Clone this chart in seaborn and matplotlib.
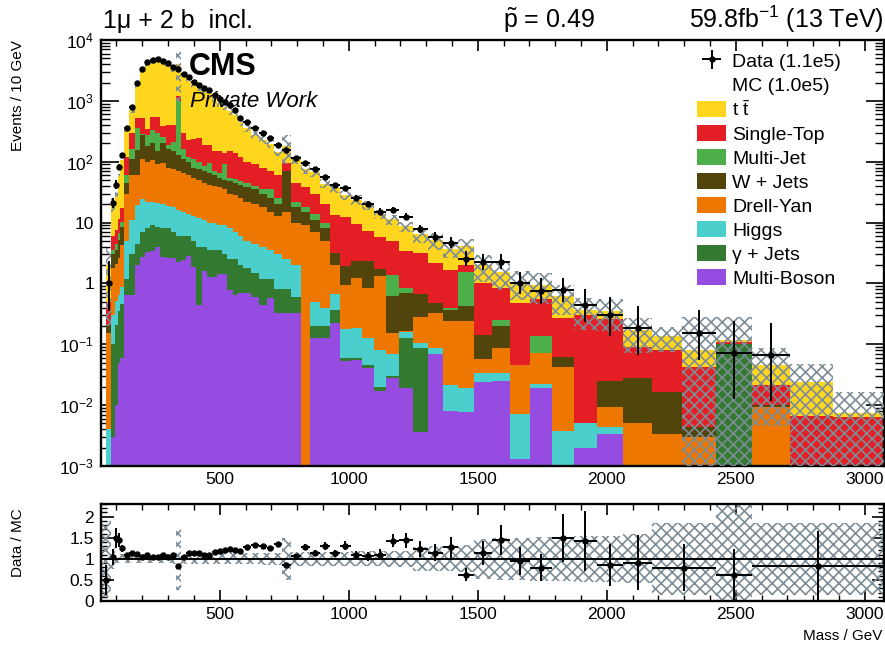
import math
import numpy as np
import pandas as pd
import matplotlib
matplotlib.use("Agg")
import matplotlib.pyplot as plt
from matplotlib.patches import Patch
from matplotlib.ticker import FixedLocator, MultipleLocator, LogLocator, NullFormatter
import seaborn as sns

# ---------------- binning (GeV) ----------------
edges = [40, 60, 80, 95, 105, 115, 130, 150, 170, 190, 210, 230, 250, 270, 290, 310,
         330, 350, 370, 390, 410, 430, 450, 470, 490, 510, 530, 550, 570, 590,
         620, 652, 682, 710, 740, 776, 814, 848, 888, 926, 966, 1008, 1050, 1096,
         1146, 1196, 1248, 1306, 1366, 1424, 1486, 1554, 1626, 1704, 1786, 1872,
         1962, 2064, 2174, 2290, 2423, 2562, 2709, 2876, 3074]

# ---------------- simulated processes (events / 10 GeV) ----------------
ttbar = [0, 1.5, 14, 21, 46, 88,
         217, 412, 1261, 2745, 3687, 4012, 4229, 3802, 3657, 2927, 2858, 2376, 1873,
         1569, 1391, 1323, 1179, 935, 766, 662, 535, 455, 325,
         257, 186, 150, 129, 83, 88, 64, 38, 37.5, 23.8,
         23.5, 16.3, 14.3, 12.1, 7.8, 6.5, 5.35, 3.22, 2.9, 1.99,
         2.07, 0.99, 0.72, 0.60, 0.41, 0.35, 0.07, 0.102, 0.082, 0.0555,
         0.0376, 0.011, 0.0244, 0.017, 0.0011]
single_top = [0, 0.3, 2.5, 3, 4.7, 7,
              60, 140, 161, 235, 70, 210, 240, 130, 210, 190, 204, 140, 111,
              130, 146, 106, 96, 80, 85, 50, 93, 88, 72,
              55, 50, 45, 35, 35, 26, 23, 20, 16, 10,
              10.3, 10.4, 7.0, 4.9, 4.2, 3.52, 2.5, 2.52, 1.73, 1.29,
              0.46, 0.867, 0.60, 0.424, 0.415, 0.207, 0.295, 0.2315, 0.063, 0.063,
              0.0375, 0.0084, 0.0115, 0.0066, 0.0063]
multi_jet = [0, 0, 0.5, 0.8, 1.5, 2,
             15, 50, 206, 20, 90, 130, 150, 50, 30, 60, 856, 50, 20,
             30, 25, 15, 30, 10, 10, 40, 7, 7, 6,
             7, 5, 5, 10, 5, 0.5, 4, 3, 3, 2,
             0, 0, 0, 0, 0, 0.76, 0.15, 0, 0, 0.04,
             1.15, 0, 0.053, 0, 0.062, 0, 0, 0, 0, 0,
             0, 0, 0, 0, 0]
w_jets = [0, 0.05, 1.2, 1.5, 2.5, 4,
          15, 50, 92, 160, 80, 95, 60, 105, 80, 75, 60, 45, 40,
          25, 25, 25, 23, 20, 17, 15, 18, 17, 17,
          16, 15, 12, 10, 7, 54.5, 8, 6, 4, 3,
          1.15, 0.97, 1.09, 1.47, 0.39, 0.464, 0.538, 0.375, 0.14, 0.12,
          0.18, 0.086, 0.11, 0, 0, 0.021, 0, 0.0152, 0.0227, 0.0132,
          0.0014, 0, 0.0008, 0, 0]
drell_yan = [0, 0.15, 1.5, 1.6, 2, 3.5,
             25, 49, 42, 86, 78, 83, 69, 75, 61, 57, 54, 50, 46,
             42, 38, 34, 32, 30, 29, 26, 22, 21, 19,
             17, 15.5, 14, 11.5, 10, 12.5, 8, 9, 6.5, 4.6,
             1.35, 0.78, 1.05, 0.72, 1.23, 0.087, 0.006, 0.18, 0.243, 0.218,
             0.22, 0.023, 0.053, 0.039, 0.051, 0.038, 0, 0.0049, 0.0051, 0.0034,
             0.0030, 0, 0.0093, 0, 0]
higgs = [0, 0.004, 0.2, 0.3, 0.3, 0.4,
         3.8, 8, 15, 17, 14, 13, 12.5, 12, 11, 11, 10, 9, 8,
         8, 8, 7, 6.5, 6.5, 5.5, 6, 5.5, 4.5, 4,
         3.2, 3, 2.8, 2.3, 2.2, 1.7, 1.4, 0, 0.3, 0.2,
         0.32, 0.118, 0.125, 0.083, 0.061, 0.039, 0.028, 0.018, 0.018, 0.0135,
         0.0115, 0.0098, 0.0084, 0.0058, 0.0028, 0.0037, 0.0031, 0.001, 0, 0,
         0, 0, 0, 0, 0]
gamma_jets = [0, 0, 0.1, 0.2, 0.3, 0.4,
              0.55, 2.35, 2.4, 4.25, 4.7, 5.55, 4.6, 5.25, 5.35, 4.35, 3.7, 3.55, 3.1,
              3.1, 3.55, 2.4, 2.2, 2.2, 2.06, 1.56, 1.71, 1.85, 1.3,
              1.1, 0.9, 0.75, 0.62, 0.47, 0.47, 0.27, 0, 0.07, 0.07,
              0.134, 0.006, 0.004, 0.0035, 0.0028, 0.0019, 0.109, 0.083, 0, 0,
              0, 0, 0, 0, 0, 0, 0, 0, 0, 0,
              0, 0.0996, 0, 0, 0]
multi_boson = [0, 0, 0.003, 0.01, 0.05, 0.06,
               0.65, 0.65, 2.0, 2.75, 3.3, 3.45, 3.9, 2.75, 2.65, 2.65, 2.27, 2.45, 2.86,
               1.88, 0.45, 1.62, 1.29, 1.29, 1.44, 1.44, 0.79, 0.65, 0.70,
               0.70, 0.60, 0.45, 0.58, 0.33, 0.33, 0.33, 0, 0.128, 0.128,
               0.226, 0.054, 0.056, 0.0415, 0.0172, 0.0281, 0.0193, 0.0036, 0.069, 0.0081,
               0.0078, 0.0236, 0.025, 0.0013, 0.0193, 0, 0.002, 0.0034, 0, 0,
               0, 0, 0, 0, 0]

# relative uncertainty of the simulation per bin
mc_rel_err = [0.90, 0.90, 0.25, 0.11, 0.11, 0.11, 0.10, 0.10, 0.10, 0.11, 0.10, 0.10, 0.10,
              0.11, 0.11, 0.12, 0.75, 0.12, 0.12, 0.12, 0.12, 0.12, 0.12, 0.12, 0.13,
              0.13, 0.13, 0.13, 0.13, 0.13, 0.13, 0.14, 0.14, 0.14, 0.50, 0.16, 0.17,
              0.17, 0.17, 0.17, 0.17, 0.18, 0.18, 0.18, 0.19, 0.19, 0.28, 0.30, 0.30,
              0.32, 0.48, 0.50, 0.50, 0.52, 0.52, 0.54, 0.54, 0.58, 0.45, 2.5, 1.4,
              0.9, 1.0, 1.2]

# ---------------- observed data (events / 10 GeV) ----------------
nan = float("nan")
data = [nan, 1.0, 21, 42, 83, 131,
        364, 805, 2000, 3400, 4430, 4780, 4960, 4600, 4260, 3660, 3400, 2810, 2420,
        2080, 1850, 1650, 1480, 1270, 1090, 970, 840, 720, 530,
        457, 364, 301, 249, 191, 158, 117, 96.6, 77, 56.9,
        42, 37.5, 25.7, 20.5, 15.1, 16.3, 12.5, 7.9, 5.86, 4.67,
        2.55, 2.27, 2.27, 1.02, 0.76, 0.79, 0.45, 0.305, 0.187, nan,
        0.155, 0.072, 0.067, nan, nan]

# ---------------- ratio panel ----------------
ratio_tail_edges = [2174, 2423, 2562, 3074]
ratio_vals = [0.50, 1.05, 1.49, 1.45, 1.25,
              1.08, 1.13, 1.12, 1.04, 1.10, 1.05, 1.04, 1.10, 1.05, 1.10, 0.84, 1.05,
              1.15, 1.15, 1.13, 1.09, 1.08, 1.17, 1.19, 1.21, 1.23, 1.21, 1.19,
              1.28, 1.32, 1.31, 1.25, 1.34, 0.86, 1.07, 1.27, 1.14, 1.30,
              1.13, 1.31, 1.09, 1.06, 1.10, 1.43, 1.44, 1.23, 1.15, 1.27,
              0.62, 1.14, 1.45, 0.95, 0.79, 1.49, 1.43, 0.86, 0.91,
              0.79, 0.62, 0.83]
ratio_tail_counts = [2, 1, 1]
ratio_tail_band = [0.86, 1.35, 0.86]

labels = [r"t $\bar{\mathrm{t}}$", "Single-Top", "Multi-Jet", "W + Jets",
          "Drell-Yan", "Higgs", "γ + Jets", "Multi-Boson"]
colors = ["#FFD61E", "#E31E24", "#4DAF4A", "#52450C",
          "#EE7700", "#4ACFCC", "#33792F", "#964CE0"]
series = [ttbar, single_top, multi_jet, w_jets, drell_yan, higgs, gamma_jets, multi_boson]

# ---------------- style ----------------
sns.set_theme(style="ticks")
plt.rcParams["font.family"] = ["Liberation Sans", "DejaVu Sans"]
plt.rcParams.update({
    "mathtext.fontset": "custom",
    "mathtext.rm": "Liberation Sans",
    "mathtext.it": "Liberation Sans:italic",
    "mathtext.bf": "Liberation Sans:bold",
    "hatch.linewidth": 1.2,
    "axes.edgecolor": "black",
    "text.color": "black",
    "xtick.color": "black",
    "ytick.color": "black",
    "axes.linewidth": 1.5,
})
HATCH_COLOR = "#7D8D98"


def poisson_interval(n):
    """Garwood 68% interval for n observed events."""
    q = 0.5 * (1 - 0.682689)
    if n > 150:
        s = math.sqrt(n)
        return n - s, n + s

    def cdf(k, mu):
        if k < 0:
            return 0.0
        if mu <= 0:
            return 1.0
        return sum(math.exp(-mu + i * math.log(mu) - math.lgamma(i + 1)) for i in range(k + 1))

    def solve(f, target, lo, hi):
        for _ in range(80):
            mid = 0.5 * (lo + hi)
            if f(mid) > target:
                lo = mid
            else:
                hi = mid
        return 0.5 * (lo + hi)

    upper = solve(lambda m: cdf(n, m), q, 0.0, n + 10 * math.sqrt(n) + 10)
    lower = 0.0 if n == 0 else solve(lambda m: cdf(n - 1, m), 1 - q, 0.0, n + 1.0)
    return lower, upper


W, H = 885, 646
fig = plt.figure(figsize=(W / 100, H / 100), dpi=100)
ax = fig.add_axes([101 / W, 1 - 466 / H, 783 / W, 426 / H])
rax = fig.add_axes([101 / W, 1 - 601 / H, 783 / W, 97 / H])

e = np.array(edges, float)
centers = 0.5 * (e[:-1] + e[1:])
widths = np.diff(e)

# ---------------- stacked simulation ----------------
frames = [pd.DataFrame({"mass": centers, "events": vals, "process": lab})
          for lab, vals in zip(labels, series)]
df = pd.concat(frames, ignore_index=True)
sns.histplot(data=df, x="mass", weights="events", hue="process", hue_order=labels,
             palette=dict(zip(labels, colors)), bins=edges, multiple="stack",
             element="step", fill=True, alpha=1.0, linewidth=0, legend=False, ax=ax)
ax.set_yscale("log")

total = np.sum(np.array(series, float), axis=0)
rel = np.array(mc_rel_err, float)
band_lo = np.clip(total * (1 - rel), 1e-6, None)
band_hi = total * (1 + rel)
band_lo[total <= 0] = np.nan
band_hi[total <= 0] = np.nan
ax.fill_between(e, np.append(band_lo, band_lo[-1]), np.append(band_hi, band_hi[-1]),
                step="post", facecolor="none", edgecolor=HATCH_COLOR, hatch="xxx",
                linewidth=0, zorder=3)

# ---------------- data ----------------
d = np.array(data, float)
has = ~np.isnan(d)
counts = np.rint(np.nan_to_num(d) * widths / 10.0)
ylo, yhi = [], []
for v, n in zip(d[has], counts[has]):
    lo, up = poisson_interval(int(n))
    ylo.append(v - v * lo / n)
    yhi.append(v * up / n - v)
eb = ax.errorbar(centers[has], d[has], xerr=widths[has] / 2, yerr=[ylo, yhi],
                 fmt="o", ms=3.6, color="black", elinewidth=1.4, capsize=0, zorder=5)

ax.set_xlim(40, 3074)
ax.set_ylim(1e-3, 1e4)
ax.set_xlabel("")
ax.set_ylabel("")

# ---------------- ratio ----------------
r_edges = np.array([edges[0]] + edges[2:59] + ratio_tail_edges[1:], float)
r_centers = 0.5 * (r_edges[:-1] + r_edges[1:])
r_widths = np.diff(r_edges)
r_vals = np.array(ratio_vals, float)
r_counts = np.concatenate([[counts[0] + counts[1]], counts[2:58], ratio_tail_counts])
r_err = r_vals / np.sqrt(r_counts)
r_band = np.array(mc_rel_err[1:58] + ratio_tail_band, float)
rb_lo = np.clip(1 - r_band, 0, None)
rb_hi = 1 + r_band
rax.fill_between(r_edges, np.append(rb_lo, rb_lo[-1]), np.append(rb_hi, rb_hi[-1]),
                 step="post", facecolor="none", edgecolor=HATCH_COLOR, hatch="xxx",
                 linewidth=0, zorder=1)
rax.axhline(1.0, color="black", lw=1.4, zorder=2)
rax.errorbar(r_centers, r_vals, xerr=r_widths / 2, yerr=r_err, fmt="o", ms=3.6,
             color="black", elinewidth=1.4, capsize=0, zorder=4)
rax.set_xlim(40, 3074)
rax.set_ylim(0, 2.3)

# ---------------- axes cosmetics ----------------
xmaj = [500, 1000, 1500, 2000, 2500, 3000]
for a in (ax, rax):
    a.xaxis.set_major_locator(FixedLocator(xmaj))
    a.xaxis.set_minor_locator(MultipleLocator(100))
    a.set_xticklabels([str(v) for v in xmaj])
    a.tick_params(axis="x", which="major", direction="in", length=8, width=1.2,
                  top=True, bottom=True, labelsize=12.5, pad=4)
    a.tick_params(axis="x", which="minor", direction="in", length=4, width=1.0,
                  top=True, bottom=True)
    for s in a.spines.values():
        s.set_linewidth(1.7)
        s.set_visible(True)

decades = [1e-3, 1e-2, 1e-1, 1, 10, 1e2, 1e3, 1e4]
ax.yaxis.set_major_locator(FixedLocator(decades))
ax.set_yticklabels([r"$10^{-3}$", r"$10^{-2}$", r"$10^{-1}$", "1", "10",
                    r"$10^{2}$", r"$10^{3}$", r"$10^{4}$"])
ax.yaxis.set_minor_locator(LogLocator(base=10, subs=np.arange(2, 10), numticks=20))
ax.yaxis.set_minor_formatter(NullFormatter())
ax.tick_params(axis="y", which="major", direction="in", length=13, width=1.2,
               left=True, right=True, labelsize=12.5, pad=5)
ax.tick_params(axis="y", which="minor", direction="in", length=6.5, width=1.0,
               left=True, right=True)

rax.yaxis.set_major_locator(FixedLocator([0, 0.5, 1, 1.5, 2]))
rax.set_yticklabels(["0", "0.5", "1", "1.5", "2"])
rax.yaxis.set_minor_locator(MultipleLocator(0.1))
rax.tick_params(axis="y", which="major", direction="in", length=9, width=1.2,
                left=True, right=True, labelsize=12.5, pad=5)
rax.tick_params(axis="y", which="minor", direction="in", length=4.5, width=1.0,
                left=True, right=True)

# ---------------- legend ----------------
blank = Patch(facecolor="none", edgecolor="none")
handles = [eb, blank] + [Patch(facecolor=c, edgecolor="none") for c in colors]
leg_labels = ["Data (1.1e5)", "MC (1.0e5)"] + labels
fig.legend(handles, leg_labels, loc="upper left",
           bbox_to_anchor=(697 / W, 1 - 52 / H), bbox_transform=fig.transFigure,
           frameon=False, fontsize=14, borderpad=0, borderaxespad=0,
           handlelength=1.5, handleheight=0.93, handletextpad=0.3,
           labelspacing=0.26)

# ---------------- texts ----------------
fig.text(103 / W, 1 - 28 / H, "1μ + 2 b  incl.", fontsize=18, ha="left", va="baseline")
fig.text(549 / W, 1 - 28 / H, r"$\tilde{\mathrm{p}}$ = 0.49", fontsize=18,
         ha="center", va="baseline")
fig.text(884 / W, 1 - 28 / H, r"59.8fb$^{-1}$ (13 TeV)", fontsize=18,
         ha="right", va="baseline")
fig.text(189 / W, 1 - 75 / H, "CMS", fontsize=22, fontweight="bold",
         ha="left", va="baseline")
fig.text(190 / W, 1 - 107 / H, "Private Work", fontsize=16, style="italic",
         ha="left", va="baseline")
fig.text(18 / W, 1 - 40 / H, "Events / 10 GeV", fontsize=11, rotation=90,
         ha="center", va="top")
fig.text(18 / W, 1 - 508 / H, "Data / MC", fontsize=11, rotation=90,
         ha="center", va="top")
fig.text(882 / W, 1 - 640 / H, "Mass / GeV", fontsize=11, ha="right", va="baseline")

fig.savefig("out.png", dpi=100)
